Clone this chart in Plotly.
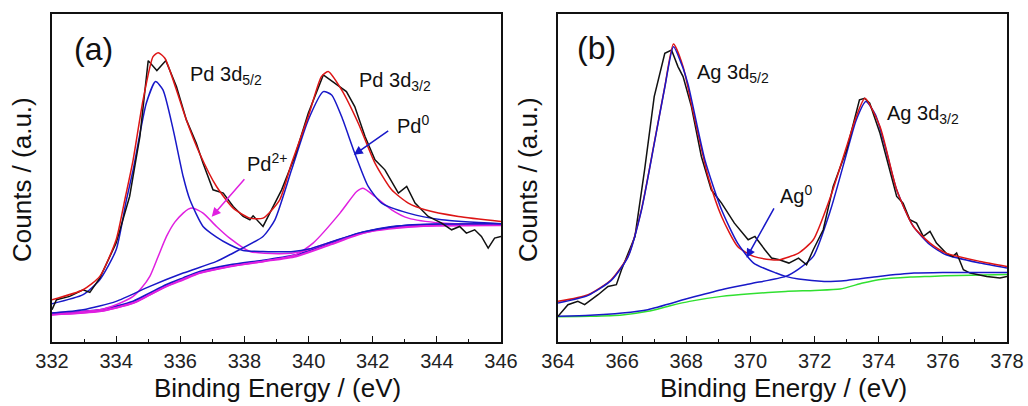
import plotly.graph_objects as go

# ---------------- Panel (a): Pd 3d ----------------
pd_raw_x = [332.00, 332.14, 332.55, 332.97, 333.18, 333.49, 334.00, 334.42, 334.74, 335.00,
            335.27, 335.55, 335.88, 336.19, 336.50, 336.71, 337.02, 337.34, 337.65, 337.96,
            338.17, 338.27, 338.58, 338.90, 339.16, 339.57, 339.99, 340.46, 340.82, 341.18,
            341.44, 341.76, 342.07, 342.38, 342.80, 343.06, 343.32, 343.73, 344.15, 344.46,
            344.71, 344.92, 345.18, 345.39, 345.60, 345.80, 346.00]
pd_raw_y = [97, 127, 137, 157, 149, 192, 297, 437, 617, 845,
            815, 845, 767, 667, 597, 537, 457, 447, 407, 377,
            367, 379, 347, 407, 457, 557, 687, 802, 777, 752,
            707, 617, 547, 517, 447, 467, 417, 377, 357, 337,
            347, 327, 337, 317, 282, 312, 317]

pd_env_x = [332.00, 332.97, 333.49, 334.00, 334.27, 334.53, 334.84, 335.15, 335.31, 335.52,
            335.88, 336.19, 336.60, 337.13, 337.65, 338.17, 338.58, 339.10, 339.47, 339.99,
            340.40, 340.61, 341.03, 341.55, 342.07, 342.59, 343.11, 343.63, 344.67, 346.00]
pd_env_y = [127, 157, 197, 307, 427, 547, 727, 857, 869, 852,
            757, 667, 567, 467, 402, 372, 372, 427, 537, 677,
            797, 812, 757, 657, 537, 457, 417, 397, 377, 362]

pd0_a_x = [332.00, 332.97, 333.49, 334.00, 334.32, 334.53, 334.94, 335.23, 335.46, 335.78,
           336.09, 336.30, 336.71, 337.13, 337.54, 337.96, 338.58, 339.52, 340.00, 340.66,
           341.55, 342.50, 343.11, 344.00, 346.00]
pd0_a_y = [115, 142, 187, 277, 427, 517, 717, 782, 757, 637,
           497, 427, 347, 315, 292, 275, 272, 272, 279, 299,
           327, 344, 351, 354, 355]

pd0_b_x = [332.00, 332.97, 334.00, 335.05, 336.09, 337.13, 337.54, 338.58, 338.95, 339.47,
           339.99, 340.46, 340.72, 341.03, 341.44, 341.86, 342.28, 343.11, 344.15, 346.00]
pd0_b_y = [87, 97, 122, 167, 207, 242, 262, 317, 367, 517,
           667, 752, 742, 677, 567, 467, 417, 387, 367, 355]

pd2_a_x = [332.00, 333.49, 334.00, 334.53, 334.79, 335.05, 335.31, 335.57, 335.83, 336.09,
           336.25, 336.40, 336.71, 337.13, 337.54, 338.17, 339.10, 339.80, 340.66, 341.70,
           342.50, 344.00, 346.00]
pd2_a_y = [87, 97, 112, 137, 162, 197, 257, 317, 360, 387,
           399, 402, 387, 347, 312, 272, 265, 272, 299, 327,
           339, 349, 350]

pd2_b_x = [332.00, 333.49, 334.53, 335.57, 336.60, 337.54, 338.58, 339.60, 340.14, 340.98,
           341.50, 341.70, 342.07, 342.59, 343.11, 344.15, 346.00]
pd2_b_y = [82, 92, 117, 167, 207, 227, 242, 262, 297, 387,
           452, 462, 437, 397, 372, 357, 351]

pd_bg_x = [332.00, 333.49, 334.53, 335.05, 335.57, 336.09, 336.60, 337.54, 338.58, 339.60,
           340.66, 341.70, 342.50, 343.11, 344.00, 346.00]
pd_bg_m_y = [82, 92, 117, 142, 167, 187, 207, 227, 242, 257,
             292, 327, 342, 347, 350, 351]
pd_bg_b_y = [86, 96, 122, 147, 172, 192, 211, 231, 245, 261,
             297, 330, 345, 350, 353, 354]

# ---------------- Panel (b): Ag 3d ----------------
ag_raw_x = [364.00, 364.31, 364.62, 364.83, 365.25, 365.56, 365.82, 365.98, 366.40, 366.70,
            367.00, 367.33, 367.54, 367.74, 367.90, 368.16, 368.47, 368.78, 369.10, 369.50,
            369.93, 370.14, 370.45, 370.66, 370.90, 371.20, 371.50, 371.75, 371.96, 372.27,
            372.58, 372.80, 373.00, 373.40, 373.56, 373.72, 374.04, 374.56, 374.76, 374.97,
            375.18, 375.39, 375.60, 375.80, 376.10, 376.31, 376.43, 376.64, 376.85, 377.37,
            377.78, 378.00]
ag_raw_y = [77, 112, 122, 112, 142, 167, 172, 217, 317, 517,
            737, 867, 877, 827, 797, 707, 557, 457, 417, 357,
            307, 317, 277, 252, 247, 237, 252, 232, 277, 337,
            467, 527, 577, 727, 732, 717, 627, 437, 417, 367,
            357, 317, 332, 297, 267, 257, 267, 217, 207, 197,
            192, 197]

ag_env_x = [364.00, 364.94, 365.66, 366.18, 366.60, 367.00, 367.33, 367.60, 367.90, 368.20,
            368.68, 369.10, 369.60, 370.10, 370.66, 370.90, 371.50, 371.96, 372.50, 373.00,
            373.30, 373.57, 374.04, 374.56, 375.08, 375.60, 376.10, 377.16, 378.00]
ag_env_y = [122, 142, 187, 257, 397, 597, 767, 895, 827, 697,
            497, 377, 287, 257, 247, 247, 267, 307, 437, 587,
            677, 732, 647, 457, 347, 297, 267, 242, 227]

ag0_a_x = [364.00, 364.94, 365.66, 366.18, 366.60, 367.00, 367.33, 367.60, 367.90, 368.06,
           368.58, 369.10, 369.60, 370.10, 370.80, 371.10, 371.50, 372.30, 373.00, 374.00,
           375.10, 376.00, 378.00]
ag0_a_y = [117, 140, 185, 255, 395, 595, 765, 887, 822, 772,
           547, 397, 297, 237, 207, 197, 189, 182, 185, 197,
           207, 209, 209]

ag0_b_x = [364.00, 365.00, 366.00, 366.80, 368.10, 369.10, 370.00, 371.10, 371.50, 371.96,
           372.50, 373.00, 373.30, 373.60, 373.90, 374.20, 374.56, 375.08, 375.60, 376.10,
           377.16, 378.00]
ag0_b_y = [77, 80, 87, 97, 132, 157, 175, 197, 219, 257,
           397, 567, 667, 722, 682, 587, 457, 347, 292, 262,
           237, 222]

ag_bg_x = [364.00, 365.00, 366.00, 366.80, 367.50, 368.10, 369.10, 370.00, 371.10, 372.00,
           372.80, 373.50, 374.00, 375.00, 375.60, 376.50, 378.00]
ag_bg_y = [76, 77, 81, 92, 109, 122, 137, 145, 152, 155,
           159, 177, 187, 195, 197, 200, 203]

# ---------------- Styling ----------------
BLACK = "#111111"
RED = "#dd1515"
BLUE = "#1818c8"
MAGENTA = "#e020e0"
GREEN = "#30e030"
FONT = "Liberation Sans, Arial, sans-serif"
LW = 1.5

fig = go.Figure()


def add_line(x, y, color, xa, ya, width=LW):
    fig.add_trace(go.Scatter(x=x, y=y, mode="lines", xaxis=xa, yaxis=ya,
                             line=dict(color=color, width=width, shape="spline",
                                       smoothing=0.6),
                             hoverinfo="skip", showlegend=False))


def add_raw(x, y, xa, ya):
    fig.add_trace(go.Scatter(x=x, y=y, mode="lines", xaxis=xa, yaxis=ya,
                             line=dict(color=BLACK, width=LW),
                             hoverinfo="skip", showlegend=False))


# panel (a)
add_line(pd_bg_x, pd_bg_b_y, BLUE, "x", "y", 2)
add_line(pd_bg_x, pd_bg_m_y, MAGENTA, "x", "y", 2)
add_line(pd2_a_x, pd2_a_y, MAGENTA, "x", "y")
add_line(pd2_b_x, pd2_b_y, MAGENTA, "x", "y")
add_line(pd0_a_x, pd0_a_y, BLUE, "x", "y")
add_line(pd0_b_x, pd0_b_y, BLUE, "x", "y")
add_raw(pd_raw_x, pd_raw_y, "x", "y")
add_line(pd_env_x, pd_env_y, RED, "x", "y")

# panel (b)
add_line(ag_bg_x, ag_bg_y, GREEN, "x2", "y2")
add_line(ag0_b_x, ag0_b_y, BLUE, "x2", "y2")
add_raw(ag_raw_x, ag_raw_y, "x2", "y2")
add_line(ag_env_x, ag_env_y, RED, "x2", "y2")
add_line(ag0_a_x, ag0_a_y, BLUE, "x2", "y2")

W, H = 1028, 406
dom_y = [1 - 342 / H, 1 - 14 / H]

xaxis_common = dict(
    showline=True, linecolor=BLACK, linewidth=1.5, mirror=True,
    ticks="inside", ticklen=6, tickwidth=1.2, tickcolor=BLACK,
    dtick=2, showgrid=False, zeroline=False, automargin=False,
    tickfont=dict(family=FONT, size=20, color="#222222"),
    minor=dict(ticks="inside", ticklen=3.5, tickwidth=1.2, tickcolor=BLACK, dtick=1),
)
yaxis_common = dict(
    showline=True, linecolor=BLACK, linewidth=1.5, mirror=True,
    ticks="", showticklabels=False, showgrid=False, zeroline=False,
    automargin=False, range=[0, 985],
)

fig.update_layout(
    width=W, height=H,
    margin=dict(l=0, r=0, t=0, b=0, autoexpand=False),
    paper_bgcolor="white", plot_bgcolor="white",
    xaxis=dict(xaxis_common, domain=[52 / W, 501 / W], range=[332, 346],
               tickvals=[332, 334, 336, 338, 340, 342, 344, 346], anchor="y"),
    yaxis=dict(yaxis_common, domain=dom_y, anchor="x"),
    xaxis2=dict(xaxis_common, domain=[558 / W, 1007 / W], range=[364, 378],
                tickvals=[364, 366, 368, 370, 372, 374, 376, 378], anchor="y2"),
    yaxis2=dict(yaxis_common, domain=dom_y, anchor="x2"),
)

anns = []


def label(text, x, y, xref, yref, size=20, xanchor="left", yanchor="middle"):
    anns.append(dict(text=text, x=x, y=y, xref=xref, yref=yref, showarrow=False,
                     xanchor=xanchor, yanchor=yanchor,
                     font=dict(family=FONT, size=size, color="#111111")))


def arrow(x, y, ax, ay, xref, yref, color):
    anns.append(dict(text="", x=x, y=y, ax=ax, ay=ay, xref=xref, yref=yref,
                     axref=xref, ayref=yref, showarrow=True, arrowhead=2,
                     arrowsize=1.2, arrowwidth=1.5, arrowcolor=color))


# panel (a) labels
label("(a)", 332.62, 880, "x", "y", size=32)
label("Pd 3d<sub>5/2</sub>", 336.23, 800, "x", "y")
label("Pd 3d<sub>3/2</sub>", 341.51, 783, "x", "y")
label("Pd<sup>0</sup>", 342.69, 652, "x", "y")
label("Pd<sup>2+</sup>", 338.01, 538, "x", "y")
arrow(341.41, 562, 342.53, 637, "x", "y", BLUE)
arrow(336.98, 376, 338.04, 493, "x", "y", MAGENTA)

# panel (b) labels
label("(b)", 364.52, 883, "x2", "y2", size=32)
label("Ag 3d<sub>5/2</sub>", 368.26, 807, "x2", "y2")
label("Ag 3d<sub>3/2</sub>", 374.19, 684, "x2", "y2")
label("Ag<sup>0</sup>", 370.85, 442, "x2", "y2")
arrow(369.88, 253, 370.76, 406, "x2", "y2", BLUE)

# axis titles
label("Binding Energy / (eV)", 277 / W, 1 - 388 / H, "paper", "paper", size=26,
      xanchor="center")
label("Binding Energy / (eV)", 783 / W, 1 - 388 / H, "paper", "paper", size=26,
      xanchor="center")
for xc in (22, 528):
    anns.append(dict(text="Counts / (a.u.)", x=xc / W, y=1 - 180 / H, xref="paper",
                     yref="paper", showarrow=False, textangle=-90,
                     xanchor="center", yanchor="middle",
                     font=dict(family=FONT, size=26, color="#111111")))

fig.update_layout(annotations=anns)
fig.write_html("out.html")
